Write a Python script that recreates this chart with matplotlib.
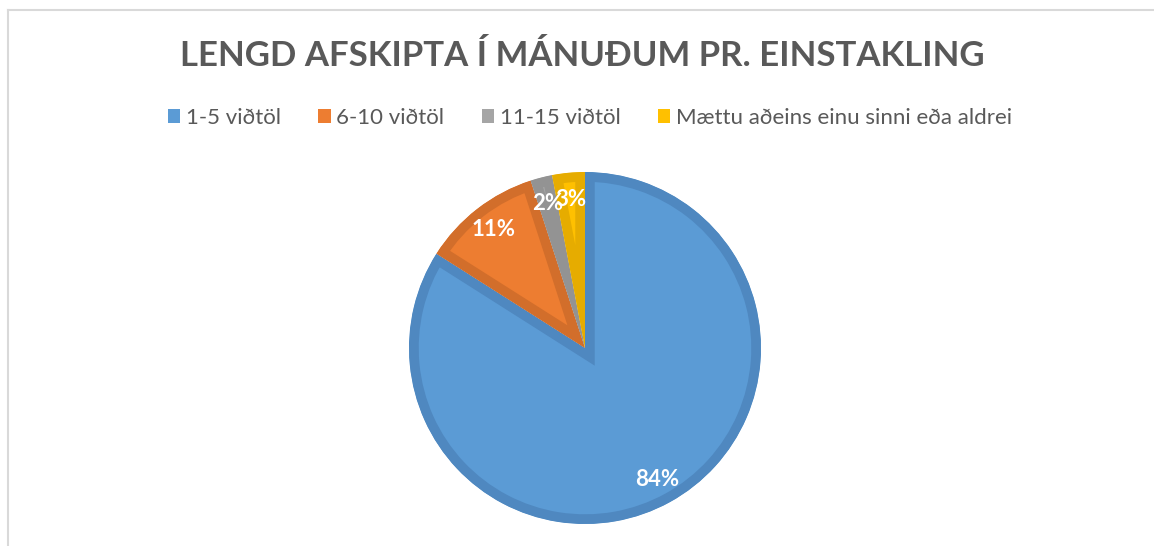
import matplotlib
matplotlib.use("Agg")
import matplotlib.pyplot as plt
from matplotlib.patches import Rectangle
from matplotlib.lines import Line2D

# gögn
flokkar = ["1-5 viðtöl", "6-10 viðtöl", "11-15 viðtöl", "Mættu aðeins einu sinni eða aldrei"]
hlutfall = [84, 11, 2, 3]
litir = ["#5B9BD5", "#ED7D31", "#A5A5A5", "#FFC000"]
jadar = ["#4F88C0", "#D26E2B", "#939393", "#E6AC00"]
titill = "LENGD AFSKIPTA Í MÁNUÐUM PR. EINSTAKLING"

plt.rcParams['font.family'] = ['Lato', 'DejaVu Sans']

fig = plt.figure(figsize=(11.54, 5.46), dpi=100)
W, H = 1154, 546

# rammi (efri og vinstri lína)
fig.add_artist(Line2D([7.5 / W, 1], [1 - 9.5 / H, 1 - 9.5 / H], color="#D9D9D9", lw=1.5))
fig.add_artist(Line2D([7.5 / W, 7.5 / W], [0, 1 - 9.5 / H], color="#D9D9D9", lw=1.5))

fig.text(582 / W, 1 - 56 / H, titill, ha="center", va="center",
         fontsize=25, fontweight="bold", color="#595959")

# kaka: miðja (585, 348), radíus 176 px
cx, cy, r = 585, 348, 176
ax = fig.add_axes([(cx - r) / W, (H - cy - r) / H, 2 * r / W, 2 * r / H])
wedges, _, pct = ax.pie(hlutfall, colors=litir, startangle=90, counterclock=False,
                        radius=1, autopct="%d%%", pctdistance=0.85,
                        wedgeprops=dict(linewidth=14),
                        textprops=dict(color="white", fontsize=16, fontweight="bold"))
for w, e in zip(wedges, jadar):
    w.set_edgecolor(e)
    w.set_clip_on(True)
    w.set_clip_path(w)
ax.set_xlim(-1, 1)
ax.set_ylim(-1, 1)
ax.set_aspect("equal")
ax.axis("off")

handles = [Rectangle((0, 0), 1, 1, facecolor=c, edgecolor="none") for c in litir]
fig.legend(handles, flokkar, loc="center", bbox_to_anchor=(590 / W, 1 - 118 / H),
           ncol=4, frameon=False, fontsize=16, handlelength=0.55, handleheight=0.55,
           handletextpad=0.25, columnspacing=1.7, labelcolor="#595959")

fig.savefig("out.png", dpi=100)
